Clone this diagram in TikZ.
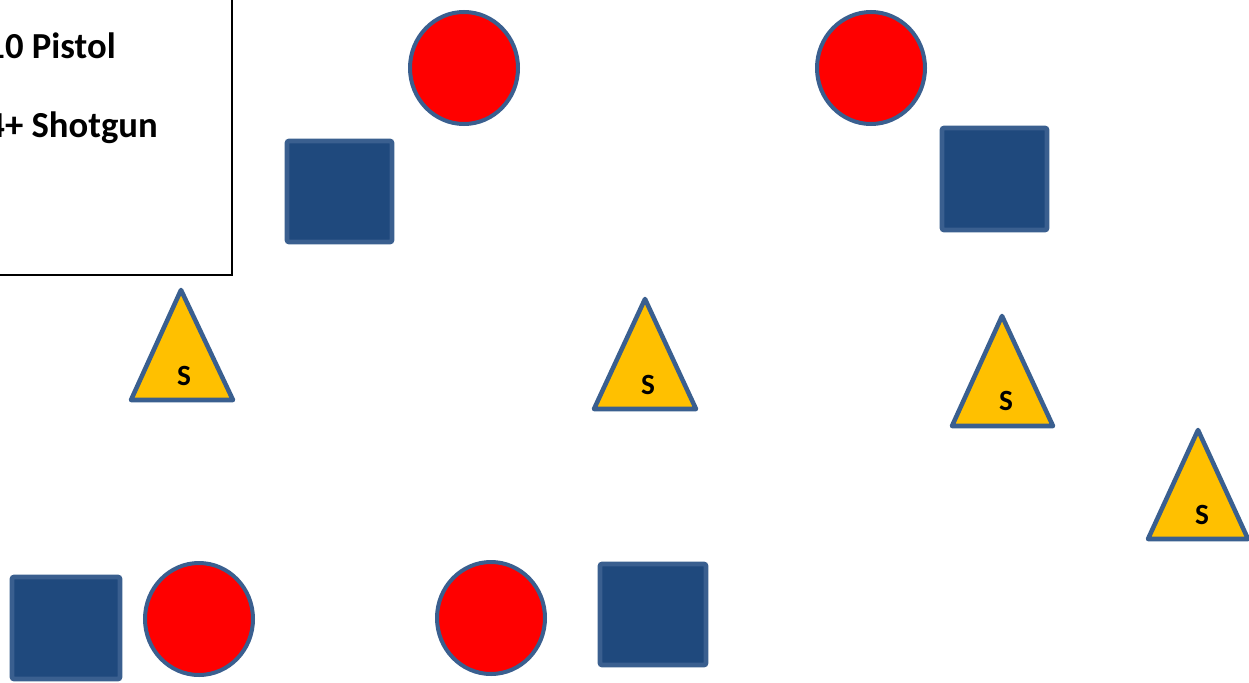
\documentclass[tikz,border=0pt]{standalone}
\usepackage{fontspec}
\setmainfont{Carlito}
\usetikzlibrary{shapes.geometric}
\definecolor{edgeblue}{HTML}{3A5F8F}
\definecolor{sqfill}{HTML}{1F497D}
\definecolor{trifill}{HTML}{FFC000}
\tikzset{
  redcirc/.style={ellipse, draw=edgeblue, fill=red, line width=3pt, minimum width=108*0.75pt, minimum height=112*0.75pt, inner sep=0pt},
  bluesq/.style={draw=edgeblue, fill=sqfill, line width=3.5pt, rounded corners=1.5pt},
  yeltri/.style={draw=edgeblue, fill=trifill, line width=3.4pt, line join=round},
  slabel/.style={font=\fontsize{22}{26}\selectfont\bfseries, inner sep=0pt},
  legtext/.style={font=\fontsize{27.5}{32}\selectfont\bfseries, inner sep=0pt, anchor=base east},
}
\begin{document}
\begin{tikzpicture}[x=0.75pt,y=-0.75pt]
\useasboundingbox (0,0) rectangle (1249,682);
\clip (0,0) rectangle (1249,682);
% legend box
\draw[line width=1.2pt] (-10,-10) rectangle (232,275);
\node[legtext] (pistol) at (116,58) {10 Pistol};
\node[legtext] (shotgun) at (158,137) {4+ Shotgun};
% circles
\node[redcirc] (c1) at (464,68) {};
\node[redcirc] (c2) at (871,68) {};
\node[redcirc] (c3) at (199,619) {};
\node[redcirc] (c4) at (491,618) {};
% squares
\draw[bluesq] (287,141) rectangle (392,242);
\draw[bluesq] (942,128) rectangle (1047,230);
\draw[bluesq] (12,577) rectangle (120,679);
\draw[bluesq] (600,564) rectangle (706,665);
% triangles
\draw[yeltri] (181,290) -- (233,400) -- (131,400) -- cycle;
\node[slabel] (s1) at (184,376) {S};
\draw[yeltri] (645,299) -- (696,409) -- (594,409) -- cycle;
\node[slabel] (s2) at (648,385) {S};
\draw[yeltri] (1002,316) -- (1053,426) -- (952,426) -- cycle;
\node[slabel] (s3) at (1006,401) {S};
\draw[yeltri] (1198,430) -- (1248,539) -- (1148,539) -- cycle;
\node[slabel] (s4) at (1202,515) {S};
\end{tikzpicture}
\end{document}
